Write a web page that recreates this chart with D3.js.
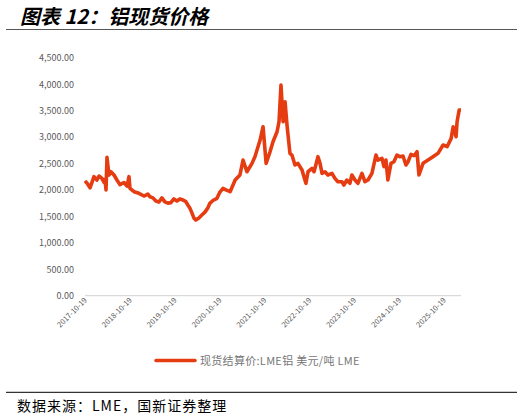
<!DOCTYPE html>
<html>
<head>
<meta charset="utf-8">
<script src="https://cdn.jsdelivr.net/npm/d3@7"></script>
<style>
  body { margin: 0; background: #fff; }
  svg { display: block; }
  text { font-family: "Noto Sans CJK SC", "Noto Sans", sans-serif; }
</style>
</head>
<body>
<svg id="chart" width="527" height="420"></svg>
<script>
// dates (LME spot aluminium, USD/t)
var dates = [
  "2017-10-19","2017-11-05","2017-11-29","2017-12-31","2018-01-24","2018-02-10","2018-03-06","2018-03-23",
  "2018-03-31","2018-04-08","2018-04-16","2018-05-02","2018-05-18","2018-06-12","2018-07-06","2018-07-31",
  "2018-09-01","2018-09-26","2018-10-12","2018-10-20","2018-11-22","2019-01-01","2019-02-11","2019-03-15",
  "2019-04-01","2019-04-25","2019-05-19","2019-06-13","2019-07-07","2019-07-31","2019-08-25","2019-09-18",
  "2019-10-12","2019-11-06","2019-11-30","2019-12-24","2020-01-18","2020-02-03","2020-02-19","2020-03-07",
  "2020-03-23","2020-04-08","2020-05-03","2020-05-27","2020-06-21","2020-07-15","2020-07-31","2020-08-25",
  "2020-09-27","2020-10-21","2020-11-15","2020-12-09","2021-01-12","2021-02-22","2021-04-02","2021-04-27",
  "2021-05-29","2021-07-09","2021-08-02","2021-09-13","2021-10-07","2021-11-01","2021-12-03","2021-12-27",
  "2022-01-29","2022-02-14","2022-03-02","2022-03-19","2022-04-04","2022-04-20","2022-05-14","2022-05-30",
  "2022-06-24","2022-07-18","2022-08-20","2022-08-28","2022-09-21","2022-10-08","2022-11-09","2022-11-26",
  "2022-12-28","2023-01-14","2023-01-30","2023-02-23","2023-03-19","2023-04-21","2023-05-15","2023-06-08",
  "2023-07-11","2023-07-27","2023-08-20","2023-09-14","2023-09-30","2023-10-25","2023-11-18","2023-12-21",
  "2024-01-14","2024-02-08","2024-03-11","2024-04-13","2024-04-29","2024-06-01","2024-06-17","2024-07-03",
  "2024-07-19","2024-08-13","2024-09-06","2024-10-01","2024-10-25","2024-11-19","2024-12-13","2024-12-30",
  "2025-01-23","2025-02-17","2025-03-13","2025-03-29","2025-05-01","2025-06-11","2025-07-21","2025-08-31",
  "2025-10-11","2025-11-13","2025-12-16","2026-01-01","2026-01-25","2026-02-02","2026-02-19","2026-03-06"
];
var prices = [
  2170,2125,2040,2250,2187,2263,2219,2140,
  2200,2000,2616,2280,2344,2282,2187,2100,
  2140,2070,2250,2030,1966,1936,1885,1920,
  1870,1850,1790,1770,1850,1775,1750,1760,
  1830,1790,1830,1810,1780,1715,1660,1565,
  1470,1430,1470,1525,1580,1660,1747,1800,
  1841,1960,2030,2000,1966,2187,2282,2565,
  2344,2502,2628,2943,3195,2502,2722,2911,
  3100,3289,3983,3289,3667,3227,2692,2660,
  2471,2502,2376,2313,2125,2344,2408,2344,
  2628,2502,2313,2344,2282,2313,2219,2155,
  2155,2093,2187,2125,2282,2187,2125,2313,
  2155,2187,2313,2660,2565,2596,2439,2565,
  2187,2502,2533,2660,2628,2641,2471,2533,
  2673,2647,2722,2282,2502,2565,2628,2692,
  2849,2817,2975,3195,3006,3289,3510,3510
];
var yTicks = [0, 500, 1000, 1500, 2000, 2500, 3000, 3500, 4000, 4500];
var xTickLabels = ["2017-10-19","2018-10-19","2019-10-19","2020-10-19","2021-10-19",
                   "2022-10-19","2023-10-19","2024-10-19","2025-10-19"];
var seriesName = "现货结算价:LME铝 美元/吨 LME";

var parse = d3.timeParse("%Y-%m-%d");
var data = dates.map(function(d, i) { return {date: parse(d), value: prices[i]}; });

var svg = d3.select("#chart");
var lineColor = "#e63c12";

// title + rule
svg.append("text")
  .attr("x", 20).attr("y", 24)
  .attr("font-size", 20).attr("font-weight", "bold").attr("font-style", "italic")
  .attr("fill", "#000")
  .text("图表 12：铝现货价格");
svg.append("line")
  .attr("x1", 6).attr("x2", 517).attr("y1", 29.5).attr("y2", 29.5)
  .attr("stroke", "#555").attr("stroke-width", 1.2);

var x = d3.scaleTime()
  .domain(d3.extent(data, function(d) { return d.date; }))
  .range([85, 461]);
var y = d3.scaleLinear().domain([0, 4500]).range([295.7, 57.7]);

// y axis labels (no line, no grid)
var fmt = d3.format(",.2f");
var yAxis = svg.append("g").attr("transform", "translate(74,0)")
  .call(d3.axisLeft(y).tickValues(yTicks).tickFormat(fmt).tickSize(0).tickPadding(0));
yAxis.select(".domain").remove();
yAxis.selectAll("text").attr("fill", "#595959").attr("font-size", 9)
  .attr("font-family", "Liberation Sans, Arial, sans-serif");

// x axis
svg.append("line")
  .attr("x1", 85).attr("x2", 461).attr("y1", y(0)).attr("y2", y(0))
  .attr("stroke", "#d9d9d9").attr("stroke-width", 1.2);
var xAxis = svg.append("g").attr("transform", "translate(0," + y(0) + ")")
  .call(d3.axisBottom(x).tickValues(xTickLabels.map(parse))
    .tickFormat(d3.timeFormat("%Y-%m-%d")).tickSize(0).tickPadding(0));
xAxis.select(".domain").remove();
xAxis.selectAll("text")
  .attr("fill", "#595959").attr("font-size", 7.5)
  .attr("font-family", "Liberation Sans, Arial, sans-serif")
  .attr("text-anchor", "end")
  .attr("dy", 0)
  .attr("transform", "translate(2,5) rotate(-45)");

// series
var line = d3.line()
  .x(function(d) { return x(d.date); })
  .y(function(d) { return y(d.value); });
svg.append("path")
  .datum(data)
  .attr("d", line)
  .attr("fill", "none")
  .attr("stroke", lineColor)
  .attr("stroke-width", 3.6)
  .attr("stroke-linejoin", "round");

// legend
svg.append("line")
  .attr("x1", 156).attr("x2", 195).attr("y1", 360.5).attr("y2", 360.5)
  .attr("stroke", lineColor).attr("stroke-width", 3.5).attr("stroke-linecap", "round");
svg.append("text")
  .attr("x", 200).attr("y", 364.5)
  .attr("font-size", 11).attr("letter-spacing", 0.3).attr("fill", "#767676")
  .text(seriesName);

// source
svg.append("line")
  .attr("x1", 6).attr("x2", 517).attr("y1", 392.3).attr("y2", 392.3)
  .attr("stroke", "#000").attr("stroke-width", 1);
svg.append("text")
  .attr("x", 17).attr("y", 411)
  .attr("font-size", 14).attr("letter-spacing", 1).attr("fill", "#000")
  .text("数据来源：LME，国新证券整理");
</script>
</body>
</html>
